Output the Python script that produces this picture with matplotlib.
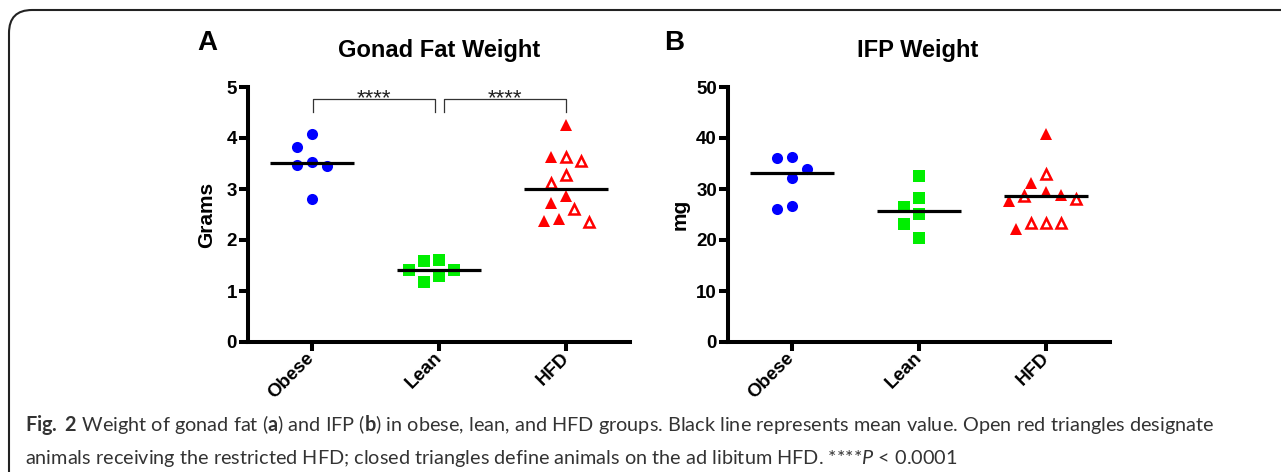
import numpy as np
import matplotlib
matplotlib.use("Agg")
import matplotlib.pyplot as plt
from matplotlib.patches import FancyBboxPatch

plt.rcParams['font.family'] = ['Liberation Sans', 'DejaVu Sans']
plt.rcParams['mathtext.fontset'] = 'custom'
plt.rcParams['mathtext.rm'] = 'Lato'
plt.rcParams['mathtext.bf'] = 'Lato:bold'
plt.rcParams['mathtext.it'] = 'Lato:italic'

# data
groups = ['Obese', 'Lean', 'HFD']

# panel A: gonad fat weight (grams)
gonad_obese = [4.07, 3.82, 3.52, 3.47, 3.45, 2.81]
gonad_lean = [1.60, 1.58, 1.41, 1.41, 1.30, 1.18]
gonad_hfd_closed = [4.25, 3.63, 2.86, 2.73, 2.41, 2.38]   # ad libitum HFD
gonad_hfd_open = [3.63, 3.55, 3.28, 3.12, 2.60, 2.36]     # restricted HFD
gonad_means = [3.51, 1.41, 3.00]

# panel B: IFP weight (mg)
ifp_obese = [36.3, 36.0, 33.9, 32.2, 26.7, 26.1]
ifp_lean = [32.5, 28.2, 26.4, 25.1, 23.2, 20.3]
ifp_hfd_closed = [40.8, 31.2, 29.5, 28.8, 27.7, 22.1]
ifp_hfd_open = [32.9, 28.6, 28.0, 23.4, 23.4, 23.3]
ifp_means = [33.1, 25.7, 28.6]

blue = '#0000ff'
green = '#00ee00'
red = '#ff0000'

fig = plt.figure(figsize=(12.81, 4.72), dpi=100)
W, H = 1281, 472


def swarm_x(ax, center, values, step=7.5, min_dist=15):
    # greedy beeswarm in pixel space, placed from the top value down
    order = np.argsort(values)[::-1]
    placed = []
    xs = np.zeros(len(values))
    x0 = ax.transData.transform((center, 0))[0]
    cands = [0]
    for k in range(1, 12):
        cands += [-k, k]
    for i in order:
        yp = ax.transData.transform((center, values[i]))[1]
        for c in cands:
            xp = x0 + c * step
            if all(np.hypot(xp - px, yp - py) >= min_dist for px, py in placed):
                break
        placed.append((xp, yp))
        xs[i] = ax.transData.inverted().transform((xp, yp))[0]
    return xs


def panel(left, obese, lean, hfd_closed, hfd_open, means, ymax, ystep, ylabel, lab_x):
    ax = fig.add_axes([left / W, 1 - 342 / H, 382 / W, 255 / H])
    ax.set_xlim(-0.5, 2.5)
    ax.set_ylim(0, ymax)
    for s in ['top', 'right']:
        ax.spines[s].set_visible(False)
    for s in ['left', 'bottom']:
        ax.spines[s].set_linewidth(2.9)
    ax.tick_params(width=2.9, length=6.5, labelsize=13.5)
    ax.tick_params(axis='y', pad=1.5)
    ax.tick_params(axis='x', pad=3)
    ax.set_yticks(np.arange(0, ymax + ystep / 2, ystep))
    ax.set_xticks(range(3))
    ax.set_xticklabels(groups, rotation=45, ha='right', va='center',
                       rotation_mode='anchor', fontweight='bold')
    for t in ax.get_yticklabels():
        t.set_fontweight('bold')
    ax.set_ylabel(ylabel, fontsize=15, fontweight='bold')
    ax.yaxis.set_label_coords(lab_x, 0.5)

    ms = 8
    ax.plot(swarm_x(ax, 0, obese), obese, 'o', color=blue, ms=ms, mew=0, clip_on=False)
    ax.plot(swarm_x(ax, 1, lean), lean, 's', color=green, ms=ms, mew=0, clip_on=False)
    hfd = hfd_closed + hfd_open
    hx = swarm_x(ax, 2, hfd)
    n = len(hfd_closed)
    ax.plot(hx[:n], hfd_closed, '^', color=red, ms=8.3, mew=0, clip_on=False)
    ax.plot(hx[n:], hfd_open, '^', mfc='white', mec=red, ms=7, mew=1.8, clip_on=False)
    for i, m in enumerate(means):
        ax.plot([i - 0.33, i + 0.33], [m, m], color='black', lw=2.3, solid_capstyle='butt')
    return ax


axA = panel(248, gonad_obese, gonad_lean, gonad_hfd_closed, gonad_hfd_open,
            gonad_means, 5, 1, 'Grams', -0.083)
axB = panel(728, ifp_obese, ifp_lean, ifp_hfd_closed, ifp_hfd_open,
            ifp_means, 50, 10, 'mg', -0.10)

# significance brackets on panel A
for x1, x2 in [(0.01, 0.97), (1.04, 2.0)]:
    axA.plot([x1, x1, x2, x2], [4.51, 4.76, 4.76, 4.51], color='#333333', lw=0.9,
             clip_on=False)
    axA.text((x1 + x2) / 2, 4.67, '****', ha='center', va='baseline', fontsize=16,
             color='#222222')

# panel letters and titles
fig.text(207 / W, 1 - 43 / H, 'A', fontsize=20, fontweight='bold', ha='center', va='center')
fig.text(674 / W, 1 - 43 / H, 'B', fontsize=20, fontweight='bold', ha='center', va='center')
fig.text(439 / W, 1 - 57 / H, 'Gonad Fat Weight', fontsize=17, fontweight='bold',
         ha='center', va='baseline')
fig.text(918 / W, 1 - 57 / H, 'IFP Weight', fontsize=17, fontweight='bold',
         ha='center', va='baseline')

# caption
line1 = (r'$\mathbf{Fig.\ 2}$ Weight of gonad fat ($\mathbf{a}$) and IFP ($\mathbf{b}$) in obese, '
         'lean, and HFD groups. Black line represents mean value. Open red triangles designate')
line2 = (r'animals receiving the restricted HFD; closed triangles define animals on the ad '
         r'libitum HFD. ****$\mathit{P}$ < 0.0001')
cap_kw = dict(family='Lato', color='#333333', ha='left', va='baseline')
t1 = fig.text(25 / W, 1 - 431 / H, line1, fontsize=12.5, **cap_kw)
t2 = fig.text(25 / W, 1 - 464 / H, line2, fontsize=12.5, **cap_kw)
# fit the first caption line to the width it takes in the figure
r = fig.canvas.get_renderer()
w = t1.get_window_extent(r).width
size = 12.5 * 1188 / w
t1.set_fontsize(size)
t2.set_fontsize(size)

# rounded frame around the figure
frame = FancyBboxPatch((9 / W, -0.2), 1.2, 1.2 - 10 / H,
                       boxstyle='round,pad=0,rounding_size=0.018',
                       transform=fig.transFigure, fill=False, ec='#222222', lw=1.5,
                       mutation_aspect=W / H)
fig.patches.append(frame)

fig.savefig('out.png', dpi=100)
